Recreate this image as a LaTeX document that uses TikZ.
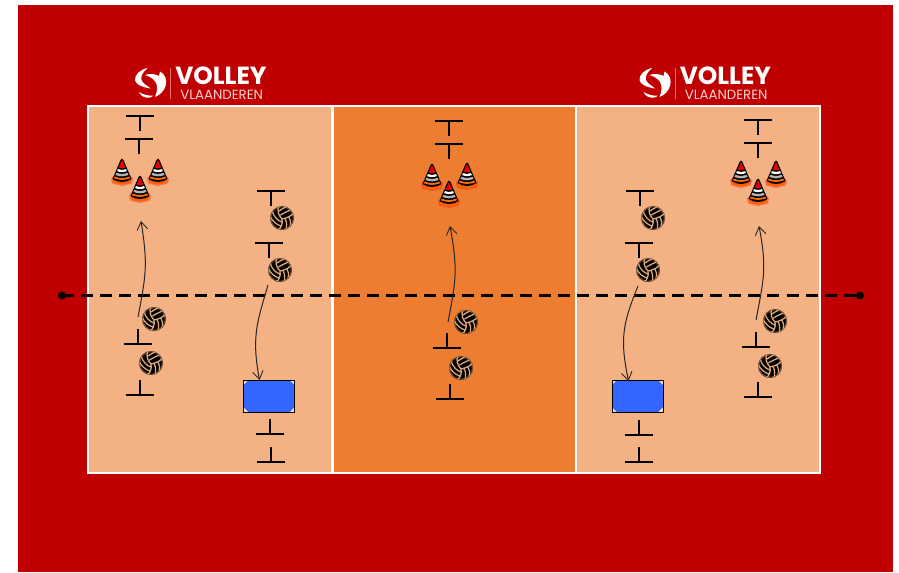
\documentclass[tikz,border=0pt]{standalone}
\usepackage{fontspec}
\setmainfont{Poppins}
\usetikzlibrary{arrows.meta}
\definecolor{courtred}{HTML}{C00000}
\definecolor{lightzone}{HTML}{F4B183}
\definecolor{midzone}{HTML}{ED7D31}
\definecolor{mat}{HTML}{3366FF}
\definecolor{seam}{HTML}{E0A878}
\definecolor{matcorner}{HTML}{FFE2B8}
\tikzset{
  x=0.75pt,y=-0.75pt,
  teeline/.style={draw=black,line width=1.5pt},
  courtline/.style={draw=white,line width=2.1pt},
  netline/.style={draw=black,line width=2.4pt,dash pattern=on 9pt off 5.3pt},
  runpath/.style={draw=black!85,line width=0.75pt,-{Straight Barb[length=6pt,width=8pt,line width=0.65pt]}},
  logotitle/.style={text=white,inner sep=0pt,font=\bfseries\fontsize{18.6}{20}\selectfont},
  logosub/.style={text=white!82!courtred,inner sep=0pt,font=\fontsize{10}{12}\selectfont},
  teedown/.pic={
    \draw[teeline] (-14,0) -- (14,0) (0,0) -- (0,15);
  },
  teeup/.pic={
    \draw[teeline] (-14,0) -- (14,0) (0,0) -- (0,-15);
  },
  ball/.pic={
    \fill[black] (0,0) circle (12);
    \begin{scope}
      \clip (0,0) circle (11.5);
      \draw[seam,line width=0.95pt]
        (0,1) .. controls (-4,-3) and (-5,-8) .. (-3,-12)
        (0,1) .. controls (5,0) and (10,-2) .. (12,-6)
        (0,1) .. controls (1,6) and (-1,10) .. (-4,12)
        (-1.5,-3) .. controls (3,-6) and (7,-7) .. (10,-9)
        (-3,-7) .. controls (1,-10) and (4,-11) .. (7,-12)
        (3,0.5) .. controls (5,4) and (5,8) .. (4,12)
        (7,-0.5) .. controls (9,3) and (9,6) .. (8,9)
        (0,4) .. controls (-4,3) and (-8,-1) .. (-10,-7)
        (-1,8) .. controls (-5,7) and (-10,3) .. (-12,-2);
    \end{scope}
    \fill[seam,opacity=0.45,even odd rule] (0,0) circle (12) circle (10.8);
  },
  cone/.pic={
    \fill[red!80!orange,opacity=0.4] (-11,6.5) -- (-8,3) -- (8,3) -- (11,6.5) -- (10,11.5) -- (0,14) -- (-10,11.5) -- cycle;
    \fill[orange!75!red] (0,8.5) ellipse (9.5 and 3.8);
    \fill[black] (0,-13.5) -- (1.5,-12) -- (9.5,7) .. controls (4,11) and (-4,11) .. (-9.5,7) -- (-1.5,-12) -- cycle;
    \fill[red!90!black] (0,-12) -- (3.4,-4.5) .. controls (1,-3.5) and (-1,-3.5) .. (-3.4,-4.5) -- cycle;
    \fill[white] (-4,-2.9) .. controls (-1,-1.7) and (1,-1.7) .. (4,-2.9) -- (4.9,-0.9) .. controls (1,0.5) and (-1,0.5) .. (-4.9,-0.9) -- cycle;
    \fill[black!30] (-5.7,0.8) .. controls (-1,2.3) and (1,2.3) .. (5.7,0.8) -- (6.6,3) .. controls (1,4.8) and (-1,4.8) .. (-6.6,3) -- cycle;
    \fill[orange!85!red] (-7.4,4.6) .. controls (-2,6.6) and (2,6.6) .. (7.4,4.6) -- (8.1,6.3) .. controls (2,8.4) and (-2,8.4) .. (-8.1,6.3) -- cycle;
  },
  matbox/.pic={
    \fill[matcorner] (0,0) rectangle (51,32);
    \fill[mat] (5,0) -- (46,0) -- (51,5) -- (51,27) -- (46,32) -- (5,32) -- (0,27) -- (0,5) -- cycle;
    \draw[black,line width=0.75pt] (0,0) rectangle (51,32);
  },
  logo/.pic={
    \fill[white] (147.5,68) .. controls (140,69.5) and (134.5,75) .. (135,80) .. controls (135.5,84) and (141,87) .. (150.5,88.5) .. controls (147,85) and (143,84) .. (141.5,80) .. controls (140.5,76) and (143,72) .. (147.5,68) -- cycle;
    \fill[white] (145,75) .. controls (150,73) and (155,74) .. (159,76) .. controls (159,74.5) and (159,73) .. (160,71.5) .. controls (165,74) and (167.5,80) .. (165.5,86) .. controls (164,91) and (160,95) .. (155,97) .. controls (157.5,91) and (158,85) .. (155,81) .. controls (152,78) and (149,76) .. (145,75) -- cycle;
    \fill[white] (139,92) .. controls (143,94.5) and (148,96) .. (153,95.5) .. controls (152,98) and (147,98.5) .. (143,96.5) .. controls (141,95.5) and (140,94) .. (139,92) -- cycle;
    \draw[white!45!courtred,line width=0.3pt] (170.5,68) -- (170.5,99);
    \node[logotitle,anchor=west] (logot) at (175,75.5) {VOLLEY};
    \node[logosub,anchor=west] (logos) at (180,94.5) {VLAANDEREN};
  }
}
\begin{document}
\begin{tikzpicture}
\useasboundingbox (0,0) rectangle (899,572);
\fill[white] (0,0) rectangle (899,572);
\fill[courtred] (18,5) rectangle (893,572);
\fill[lightzone] (88,106) rectangle (820,473);
\fill[midzone] (332.5,106) rectangle (576,473);
\draw[courtline] (88,106) rectangle (820,473);
\draw[courtline] (332.5,106) -- (332.5,473) (576,106) -- (576,473);
% logos
\pic at (0,0) {logo};
\pic at (504.5,0) {logo};
% teams' start marks
\foreach \x/\y in {140/116,139/139,271/191,269/243,449/121,449/144,758/120,758/143,640/191,639/243}
  \pic at (\x,\y) {teedown};
\foreach \x/\y in {137.5/343.5,139.5/394.5,270/434,271/462,447/348,450/399,756/347,758/397,639/435,639/462}
  \pic at (\x,\y) {teeup};
% cones
\foreach \x/\y in {122/172,158/172,140/189,432/177,467/176,449/194,741/174,776/174,758/192}
  \pic at (\x,\y) {cone};
% mats
\pic at (243.5,380) {matbox};
\pic at (612,380) {matbox};
% net
\coordinate (netL) at (62,295.5);
\coordinate (netR) at (860,295.5);
\draw[netline] (netL) -- (netR);
\fill[black] (netL) circle (4) (netR) circle (4);
% balls
\foreach \x/\y in {154/319,151/363,282/218,280/270,466/322,461/368,653/218,648/270,775/321,770/366}
  \pic at (\x,\y) {ball};
% runs
\coordinate (a1) at (138,317); \coordinate (b1) at (141,221);
\coordinate (a2) at (268,285); \coordinate (b2) at (259.5,380);
\coordinate (a3) at (448,322); \coordinate (b3) at (450,226);
\coordinate (a4) at (638,286); \coordinate (b4) at (628.5,381);
\coordinate (a5) at (756,320); \coordinate (b5) at (759,226);
\draw[runpath] (a1) .. controls (146,275) and (148,265) .. (b1);
\draw[runpath] (a2) .. controls (258,320) and (251,335) .. (b2);
\draw[runpath] (a3) .. controls (456,280) and (458,270) .. (b3);
\draw[runpath] (a4) .. controls (622,325) and (620,340) .. (b4);
\draw[runpath] (a5) .. controls (764,278) and (767,268) .. (b5);
\end{tikzpicture}
\end{document}
